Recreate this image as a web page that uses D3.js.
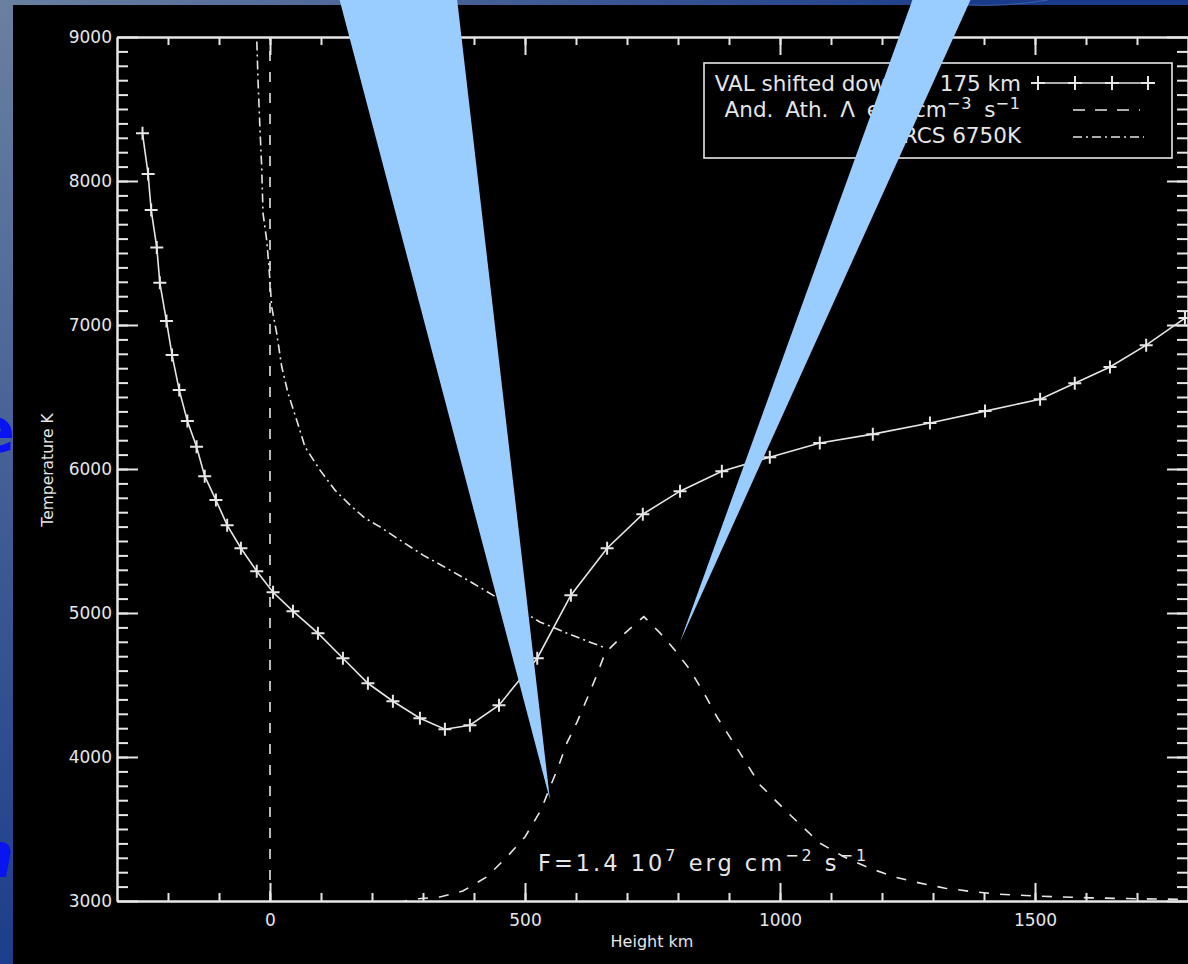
<!DOCTYPE html>
<html>
<head>
<meta charset="utf-8">
<script src="https://cdn.jsdelivr.net/npm/d3@7"></script>
<style>
  body { margin: 0; background: #000; }
  svg { display: block; }
  text { font-family: "DejaVu Sans", sans-serif; fill: #e6e6e6; }
</style>
</head>
<body>
<div id="chart"></div>
<script>
// VAL model (shifted down), height in km, temperature in K
var valHeight = [-250, -239, -233, -222, -216, -203, -192, -178, -162, -144,
  -128, -106, -84, -57, -26, 6, 45, 94, 143, 192,
  241, 294, 343, 392, 449, 524, 590, 661, 731, 804,
  886, 980, 1078, 1182, 1294, 1402, 1510, 1578, 1647, 1718, 1794];
var valTemp = [8331, 8048, 7798, 7539, 7293, 7027, 6791, 6548, 6334, 6154,
  5950, 5784, 5610, 5450, 5290, 5144, 5013, 4860, 4686, 4512,
  4387, 4269, 4193, 4221, 4360, 4686, 5124, 5450, 5686, 5846,
  5985, 6082, 6180, 6242, 6319, 6402, 6485, 6596, 6708, 6860, 7048];

// And. Ath. Lambda curve (dashed)
var lamHeight = [250, 278, 333, 378, 425, 464, 500, 531, 549, 565,
  582, 602, 622, 639, 657, 696, 733, 765, 794, 824,
  853, 878, 912, 961, 1020, 1078, 1127, 1176, 1225, 1275,
  1324, 1373, 1431, 1510, 1608, 1706, 1800];
var lamTemp = [2985, 3012, 3028, 3069, 3167, 3304, 3445, 3630, 3790, 3929,
  4096, 4242, 4408, 4554, 4721, 4860, 4975, 4860, 4742, 4603,
  4430, 4269, 4082, 3805, 3597, 3402, 3304, 3228, 3166, 3124,
  3089, 3067, 3047, 3033, 3022, 3015, 3012];

// MARCS 6750K model (dash-dot)
var marcsHeight = [-27, -23.5, -19.6, -16.3, -13.7, -6.5, -2, 3.3, 13.1, 23,
  35.3, 52.4, 68.6, 98, 127.5, 157, 186, 215.7, 255, 300,
  346.5, 398, 437, 482, 529, 582, 633, 657];
var marcsTemp = [9100, 8701, 8354, 8099, 7777, 7590, 7404, 7126, 6944, 6710,
  6527, 6339, 6154, 5992, 5853, 5749, 5659, 5598, 5506, 5402,
  5311, 5207, 5124, 5040, 4938, 4860, 4790, 4759];

var refHeight = 0; // vertical dashed marker
var xMajor = [0, 500, 1000, 1500];
var yMajor = [3000, 4000, 5000, 6000, 7000, 8000, 9000];
var xMinor = d3.range(-200, 1800, 100);
var yMinor = d3.range(3100, 9000, 100);

var W = 1188, H = 964;
var fg = '#e6e6e6';

var svg = d3.select('#chart').append('svg')
  .attr('width', W)
  .attr('height', H);

// slide background peeking out behind the plot image
var defs = svg.append('defs');
var grad = defs.append('radialGradient')
  .attr('id', 'slide')
  .attr('gradientUnits', 'userSpaceOnUse')
  .attr('cx', 0).attr('cy', 0).attr('r', 1000);
grad.append('stop').attr('offset', 0).attr('stop-color', '#6a80a0');
grad.append('stop').attr('offset', 1).attr('stop-color', '#1a3b8a');
svg.append('rect').attr('width', W).attr('height', H).attr('fill', 'url(#slide)');

svg.append('text').text('e')
  .attr('x', -27).attr('y', 452)
  .style('font-size', '62px').style('font-weight', 'bold')
  .style('fill', '#0a14f0');
svg.append('text').text('n')
  .attr('x', -30).attr('y', 877)
  .style('font-size', '62px').style('font-weight', 'bold').style('font-style', 'italic')
  .style('fill', '#0a14f0');

svg.append('rect')
  .attr('x', 13).attr('y', 5)
  .attr('width', W - 13).attr('height', H - 5)
  .attr('fill', '#000');

// bottom edge of a speech bubble above the picture
svg.append('path')
  .attr('d', 'M966,5 Q1005,7 1048,0 L1048,-2 L966,-2 Z')
  .attr('fill', '#1a3b8a')
  .attr('stroke', '#3d5fa8')
  .attr('stroke-width', 1);

var x = d3.scaleLinear().domain([-300, 1800]).range([117, 1188]);
var y = d3.scaleLinear().domain([3000, 9000]).range([901, 37]);

defs.append('clipPath').attr('id', 'plot')
  .append('rect')
  .attr('x', 117).attr('y', 37)
  .attr('width', 1188 - 117).attr('height', 901 - 37);

// axes: minor ticks first, then major ticks with labels
function axis(gen, tx, ty, values, size, labels, pad) {
  var g = svg.append('g')
    .attr('transform', 'translate(' + tx + ',' + ty + ')')
    .attr('color', fg)
    .call(gen.tickValues(values).tickSize(size).tickSizeOuter(0)
      .tickPadding(pad || 3)
      .tickFormat(labels ? d3.format('d') : ''));
  g.selectAll('path, line').attr('stroke-width', 2);
  g.selectAll('text').style('font-size', '17px');
  return g;
}

axis(d3.axisBottom(x), 0, 901, xMinor, -8, false);
axis(d3.axisBottom(x), 0, 901, xMajor, -18, true, 13);
axis(d3.axisTop(x), 0, 37, xMinor, -8, false);
axis(d3.axisTop(x), 0, 37, xMajor, -18, false);
axis(d3.axisLeft(y), 117, 0, yMinor, -11, false);
axis(d3.axisLeft(y), 117, 0, yMajor, -21, true, 5);
axis(d3.axisRight(y), 1188, 0, yMinor, -11, false);
axis(d3.axisRight(y), 1188, 0, yMajor, -21, false);

svg.append('text')
  .attr('x', 652).attr('y', 947)
  .attr('text-anchor', 'middle')
  .style('font-size', '16px')
  .text('Height km');

svg.append('text')
  .attr('transform', 'translate(53,470) rotate(-90)')
  .attr('text-anchor', 'middle')
  .style('font-size', '15.5px')
  .text('Temperature K');

// curves
var line = d3.line()
  .x(function (d) { return x(d[0]); })
  .y(function (d) { return y(d[1]); });

var plot = svg.append('g').attr('clip-path', 'url(#plot)');

plot.append('path')
  .datum([[refHeight, 3000], [refHeight, 9000]])
  .attr('d', line)
  .attr('fill', 'none')
  .attr('stroke', fg)
  .attr('stroke-width', 1.6)
  .attr('stroke-dasharray', '10,11');

plot.append('path')
  .datum(d3.zip(lamHeight, lamTemp))
  .attr('d', line)
  .attr('fill', 'none')
  .attr('stroke', fg)
  .attr('stroke-width', 1.6)
  .attr('stroke-dasharray', '10,11');

plot.append('path')
  .datum(d3.zip(marcsHeight, marcsTemp))
  .attr('d', line)
  .attr('fill', 'none')
  .attr('stroke', fg)
  .attr('stroke-width', 1.6)
  .attr('stroke-dasharray', '9,4,2,4');

var val = d3.zip(valHeight, valTemp);
plot.append('path')
  .datum(val)
  .attr('d', line)
  .attr('fill', 'none')
  .attr('stroke', fg)
  .attr('stroke-width', 1.6);

function plus(cx, cy, r) {
  return 'M' + (cx - r) + ',' + cy + 'H' + (cx + r) + 'M' + cx + ',' + (cy - r) + 'V' + (cy + r);
}

plot.selectAll('.mark')
  .data(val)
  .enter().append('path')
  .attr('class', 'mark')
  .attr('d', function (d) { return plus(x(d[0]), y(d[1]), 6.5); })
  .attr('stroke', fg)
  .attr('stroke-width', 2);

// legend
var leg = svg.append('g');
leg.append('rect')
  .attr('x', 704).attr('y', 63)
  .attr('width', 468).attr('height', 95)
  .attr('fill', '#000')
  .attr('stroke', fg)
  .attr('stroke-width', 1.6);

leg.append('text')
  .attr('x', 1021).attr('y', 91)
  .attr('text-anchor', 'end')
  .style('font-size', '21.5px')
  .text('VAL shifted down by 175 km');

var t2 = leg.append('text')
  .attr('x', 1021).attr('y', 117)
  .attr('text-anchor', 'end')
  .style('font-size', '21.5px')
  .style('word-spacing', '5px');
t2.append('tspan').text('And. Ath. Λ erg cm');
t2.append('tspan').attr('dy', -8).style('font-size', '16px').style('letter-spacing', '1px').text('−3');
t2.append('tspan').attr('dy', 8).text(' s');
t2.append('tspan').attr('dy', -8).style('font-size', '16px').style('letter-spacing', '1px').text('−1');

leg.append('text')
  .attr('x', 1021).attr('y', 143)
  .attr('text-anchor', 'end')
  .style('font-size', '21.5px')
  .text('MARCS 6750K');

leg.append('path')
  .attr('d', 'M1033,83H1153')
  .attr('stroke', fg).attr('stroke-width', 1.6);
leg.selectAll('.lm')
  .data([1038, 1075, 1112, 1148])
  .enter().append('path')
  .attr('d', function (d) { return plus(d, 83, 7); })
  .attr('stroke', fg).attr('stroke-width', 2);
leg.append('path')
  .attr('d', 'M1073,110H1140')
  .attr('stroke', fg).attr('stroke-width', 1.6)
  .attr('stroke-dasharray', '12,10');
leg.append('path')
  .attr('d', 'M1073,137H1144')
  .attr('stroke', fg).attr('stroke-width', 1.6)
  .attr('stroke-dasharray', '9,4,2,4');

// flux annotation
var ann = svg.append('text')
  .attr('x', 538).attr('y', 871)
  .style('font-size', '22.5px')
  .style('letter-spacing', '3px');
ann.append('tspan').text('F=1.4 10');
ann.append('tspan').attr('dy', -10).style('font-size', '16px').text('7');
ann.append('tspan').attr('dy', 10).text(' erg cm');
ann.append('tspan').attr('dy', -10).style('font-size', '16px').text('−2');
ann.append('tspan').attr('dy', 10).text(' s');
ann.append('tspan').attr('dy', -10).style('font-size', '16px').text('−1');

// light blue callout pointers laid over the plot
var callouts = [
  [[337, -10], [456, -10], [550, 800]],
  [[916, -10], [975, -10], [680, 642]]
];
svg.selectAll('.callout')
  .data(callouts)
  .enter().append('polygon')
  .attr('class', 'callout')
  .attr('points', function (d) { return d.map(function (p) { return p.join(','); }).join(' '); })
  .attr('fill', '#99ccff');
</script>
</body>
</html>
